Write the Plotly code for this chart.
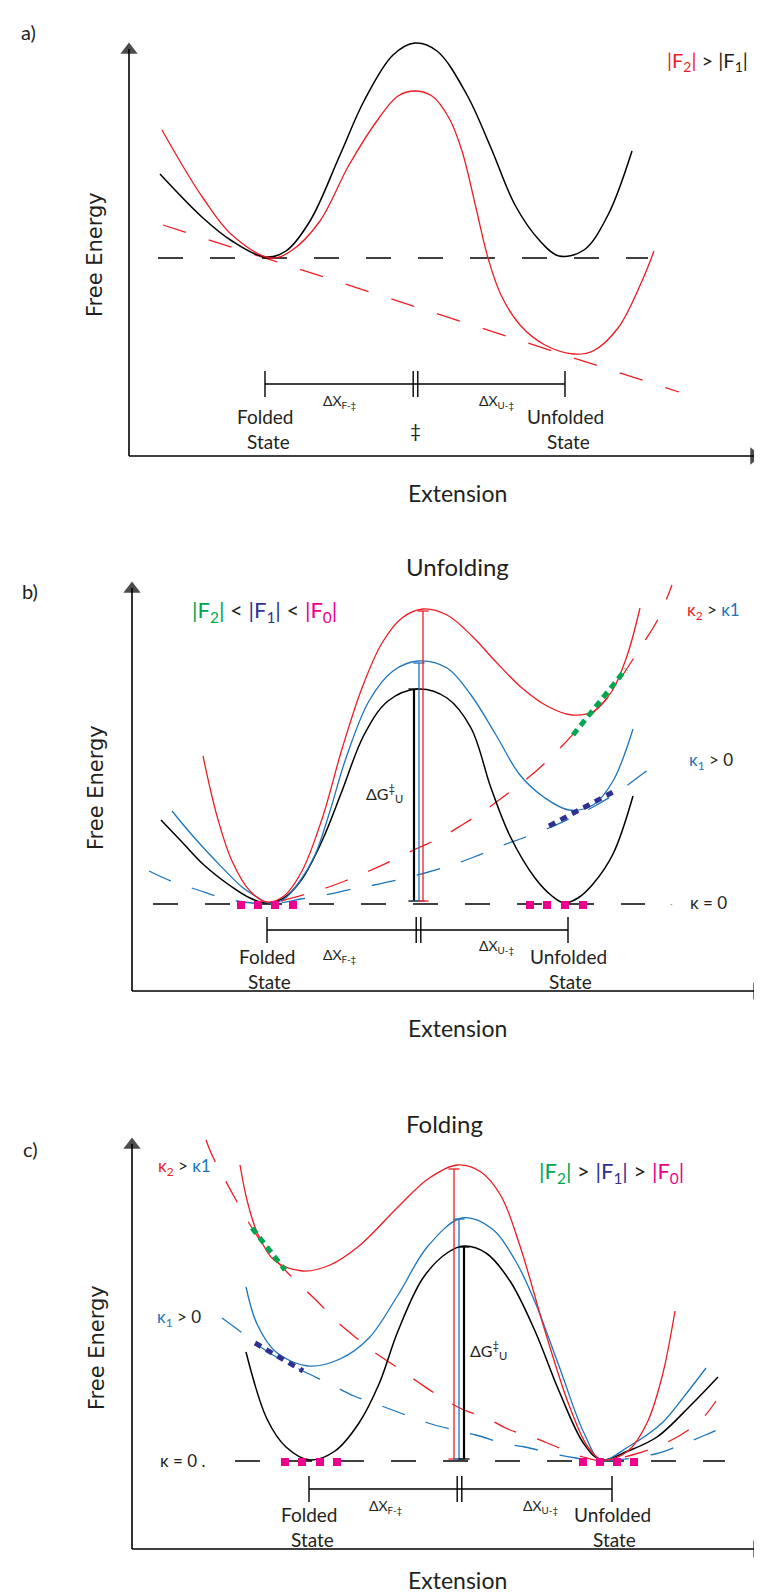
import plotly.graph_objects as go

# ---------------- DATA (panel-local units: extension, free energy) ----------------
# Panel a
a_black_x = [31, 74, 103, 136, 157, 181, 211, 235, 264, 286, 308, 338, 362, 386, 411, 430, 455, 479, 503]
a_black_y = [282, 238, 215, 199, 205, 235, 301, 355, 401, 413, 405, 361, 308, 251, 215, 200, 206, 241, 305]
a_red_x = [33, 55, 74, 103, 142, 162, 191, 220, 250, 269, 286, 303, 320, 333, 347, 359, 372, 391, 416, 445, 464, 489, 513, 525]
a_red_y = [326, 288, 258, 221, 198, 205, 235, 291, 338, 360, 365, 360, 338, 305, 248, 198, 161, 131, 111, 102, 105, 128, 175, 205]
a_tilt_x = [34, 550]
a_tilt_y = [231, 64]
a_base_x = [29, 519]
a_base_y = [198, 198]
a_states = [136, 286.5, 436]

# Panel b (unfolding)
b_black_x = [29, 50, 72, 100, 118, 135, 152, 170, 190, 210, 232, 256, 286, 315, 339, 359, 378, 403, 420, 432, 446, 461, 481, 501]
b_black_y = [171, 149, 126, 104, 93, 88, 93, 112, 150, 200, 256, 290, 302, 293, 263, 203, 155, 113, 95, 88, 93, 107, 137, 195]
b_blue_x = [40, 60, 81, 110, 125, 137, 152, 168, 183, 198, 213, 237, 261, 286, 315, 339, 364, 388, 413, 437, 461, 481, 501]
b_blue_y = [180, 156, 133, 104, 94, 88, 92, 110, 136, 180, 230, 290, 320, 330, 323, 296, 256, 216, 193, 181, 186, 210, 262]
b_red_x = [71, 85, 100, 118, 135, 152, 170, 190, 210, 230, 250, 270, 291, 315, 340, 365, 390, 415, 440, 462, 480, 495, 508]
b_red_y = [235, 175, 130, 100, 89, 95, 120, 172, 242, 303, 348, 373, 382, 376, 355, 328, 303, 285, 276, 280, 300, 335, 383]
b_red_dash_x = [149, 188, 213, 237, 259, 286, 308, 330, 352, 371, 391, 413, 432, 451, 476, 494, 510, 525, 540]
b_red_dash_y = [90, 101, 110, 120, 130, 143, 153, 166, 180, 194, 209, 228, 247, 268, 294, 321, 346, 370, 406]
b_blue_dash_x = [17, 39, 66, 91, 120, 146, 169, 193, 220, 242, 269, 293, 320, 342, 369, 391, 417, 439, 461, 483, 505, 525]
b_blue_dash_y = [120, 110, 101, 93, 88, 88, 92, 96, 102, 106, 112, 118, 126, 134, 145, 153, 163, 173, 184, 197, 213, 228]
b_green_x = [441, 494]
b_green_y = [256, 322]
b_navy_x = [417, 483]
b_navy_y = [165, 200]
b_mag_x = [109, 126, 143, 161, 398, 415, 433, 451]
b_mag_y = [86, 86, 86, 86, 86, 86, 86, 86]
b_base_x = [21, 513]
b_base_y = [87, 87]
b_bar_x = [282, 287, 291]
b_bar_top = [302, 328, 380]
b_bar_bottom = 90
b_states = [135, 286.5, 436]

# Panel c (folding)
c_black_x = [114, 135, 154, 178, 203, 227, 247, 266, 291, 315, 332, 354, 378, 403, 427, 452, 469, 496, 525, 559, 586]
c_black_y = [197, 130, 102, 89, 98, 126, 165, 218, 271, 296, 303, 296, 268, 218, 158, 105, 89, 98, 112, 144, 172]
c_blue_x = [114, 125, 144, 176, 208, 237, 266, 296, 330, 359, 383, 403, 427, 452, 469, 496, 530, 554, 574]
c_blue_y = [262, 225, 197, 183, 190, 211, 254, 303, 331, 321, 289, 247, 183, 116, 89, 102, 126, 155, 181]
c_red_x = [108, 115, 125, 142, 171, 198, 227, 266, 296, 325, 349, 369, 388, 413, 437, 456, 471, 496, 515, 530, 543]
c_red_y = [384, 349, 317, 289, 278, 284, 303, 342, 370, 384, 377, 353, 303, 218, 144, 102, 89, 98, 126, 172, 238]
c_red_dash_x = [74, 80, 92, 104, 120, 136, 153, 165, 186, 203, 227, 242, 266, 286, 310, 330, 356, 378, 403, 425, 451, 471, 500, 524, 547, 569, 584]
c_red_dash_y = [409, 394, 371, 349, 321, 298, 279, 267, 247, 229, 209, 197, 181, 167, 151, 140, 130, 119, 111, 102, 92, 88, 94, 102, 113, 129, 148]
c_blue_dash_x = [90, 109, 120, 146, 171, 198, 222, 247, 271, 296, 322, 344, 374, 393, 422, 444, 469, 523, 546, 571, 594]
c_blue_dash_y = [231, 217, 208, 191, 178, 165, 153, 144, 135, 126, 119, 114, 105, 102, 95, 91, 88, 95, 103, 113, 123]
c_green_x = [120, 153]
c_green_y = [321, 279]
c_navy_x = [123, 171]
c_navy_y = [206, 178]
c_mag_x = [153, 170, 188, 205, 451, 468, 485, 502]
c_mag_y = [87, 87, 87, 87, 87, 87, 87, 87]
c_base_x = [103, 593]
c_base_y = [88, 88]
c_bar_x = [322, 327, 332]
c_bar_top = [380, 330, 302]
c_bar_bottom = 90
c_states = [177, 327.5, 480]

# ---------------- STYLE ----------------
RED = "#ED1C24"
BLUE = "#1C75BC"
BLACK = "#000000"
GREEN = "#00A651"
NAVY = "#2E3192"
MAG = "#EC008C"
TXT = "#231F20"
SANS = "Lato"
FE_FONT = "DejaVu Sans"

W, H = 762, 1592
fig = go.Figure()

# panel geometry: (axis suffix, axis origin px x, axis origin px y, band top px, band bottom px)
panels = {
    "a": ("", 121, 448, 0, 520),
    "b": ("2", 124, 983, 520, 1040),
    "c": ("3", 124, 1541, 1040, 1592),
}

for key, (s, ox, oy, top, bot) in panels.items():
    fig.layout["xaxis" + s] = dict(domain=[0, 1], range=[-ox, W - ox], visible=False,
                                   anchor="y" + s, fixedrange=True)
    fig.layout["yaxis" + s] = dict(domain=[1 - bot / H, 1 - top / H], range=[oy - bot, oy - top],
                                   visible=False, anchor="x" + s, fixedrange=True)


def ax(key):
    s = panels[key][0]
    return "x" + s, "y" + s


def line(key, x, y, color, width=1.4, dash=None, shape="spline"):
    xa, ya = ax(key)
    fig.add_trace(go.Scatter(x=x, y=y, mode="lines", xaxis=xa, yaxis=ya,
                             line=dict(color=color, width=width, dash=dash, shape=shape, smoothing=1.0),
                             hoverinfo="skip", showlegend=False))


def squares(key, x, y):
    xa, ya = ax(key)
    fig.add_trace(go.Scatter(x=x, y=y, mode="markers", xaxis=xa, yaxis=ya,
                             marker=dict(symbol="square", size=8, color=MAG),
                             hoverinfo="skip", showlegend=False))


def bars(key, xs, tops, bottom, colors):
    xa, ya = ax(key)
    for x, t, c in zip(xs, tops, colors):
        w = 2.2 if c == BLACK else 1.3
        fig.add_trace(go.Scatter(x=[x, x], y=[bottom, t], mode="lines+markers", xaxis=xa, yaxis=ya,
                                 line=dict(color=c, width=w),
                                 marker=dict(symbol="line-ew", size=8, line=dict(width=1.3, color=c)),
                                 hoverinfo="skip", showlegend=False))


def bracket(key, states, yb):
    xa, ya = ax(key)
    segs = [([states[0], states[2]], [yb, yb]),
            ([states[0], states[0]], [yb - 13, yb + 13]),
            ([states[2], states[2]], [yb - 13, yb + 13]),
            ([states[1] - 2.3, states[1] - 2.3], [yb - 13, yb + 13]),
            ([states[1] + 2.3, states[1] + 2.3], [yb - 13, yb + 13])]
    for sx, sy in segs:
        fig.add_trace(go.Scatter(x=sx, y=sy, mode="lines", xaxis=xa, yaxis=ya,
                                 line=dict(color=BLACK, width=1.4), hoverinfo="skip", showlegend=False))


def axis_arrows(key, ytip, xtip):
    xa, ya = ax(key)
    fig.add_trace(go.Scatter(x=[0, 0], y=[0, ytip - 8], mode="lines", xaxis=xa, yaxis=ya,
                             line=dict(color=BLACK, width=1.6), hoverinfo="skip", showlegend=False))
    fig.add_trace(go.Scatter(x=[0, xtip - 8], y=[0, 0], mode="lines", xaxis=xa, yaxis=ya,
                             line=dict(color=BLACK, width=1.6), hoverinfo="skip", showlegend=False))
    fig.add_trace(go.Scatter(x=[0], y=[ytip - 9], mode="markers", xaxis=xa, yaxis=ya, cliponaxis=False,
                             marker=dict(symbol="triangle-up", size=[15], color=BLACK,
                                         line=dict(width=0)),
                             hoverinfo="skip", showlegend=False))
    fig.add_trace(go.Scatter(x=[xtip - 9], y=[0], mode="markers", xaxis=xa, yaxis=ya, cliponaxis=False,
                             marker=dict(symbol="triangle-right", size=[15], color=BLACK,
                                         line=dict(width=0)),
                             hoverinfo="skip", showlegend=False))


annotations = []


def text(key, x, y, t, size=19, family=SANS, color=TXT, angle=0, xanchor="center"):
    xa, ya = ax(key)
    annotations.append(dict(x=x, y=y, xref=xa, yref=ya, text=t, showarrow=False,
                            font=dict(family=family, size=size, color=color),
                            textangle=angle, xanchor=xanchor, yanchor="middle"))


def col(c, t):
    return f"<span style='color:{c}'>{t}</span>"


# ---------------- PANEL a ----------------
line("a", a_tilt_x, a_tilt_y, RED, 1.3, "24px,24px", "linear")
line("a", a_base_x, a_base_y, BLACK, 1.6, "25px,27px", "linear")
line("a", a_black_x, a_black_y, BLACK, 1.5)
line("a", a_red_x, a_red_y, RED, 1.3)
bracket("a", a_states, 72)
axis_arrows("a", 415, 634)
text("a", -101, 424, "a)", 20)
text("a", -34, 201, "Free Energy", 21, FE_FONT, angle=-90)
text("a", 328, -37, "Extension", 23)
text("a", 578, 395, col(RED, "|F<sub>2</sub>|") + " > |F<sub>1</sub>|", 20)
text("a", a_states[0], 40, "Folded")
text("a", a_states[0] + 3, 15, "State")
text("a", a_states[2], 40, "Unfolded")
text("a", a_states[2] + 3, 15, "State")
text("a", a_states[1], 26, "‡", 19)
text("a", 211, 55, "ΔX<sub>F-‡</sub>", 14)
text("a", 367, 55, "ΔX<sub>U-‡</sub>", 14)

# ---------------- PANEL b ----------------
line("b", b_base_x, b_base_y, BLACK, 1.6, "25px,27px", "linear")
line("b", b_red_dash_x, b_red_dash_y, RED, 1.3, "24px,22px")
line("b", b_blue_dash_x, b_blue_dash_y, BLUE, 1.3, "24px,22px")
line("b", b_black_x, b_black_y, BLACK, 1.5)
line("b", b_blue_x, b_blue_y, BLUE, 1.3)
line("b", b_red_x, b_red_y, RED, 1.3)
line("b", b_green_x, b_green_y, GREEN, 5, "7px,5px", "linear")
line("b", b_navy_x, b_navy_y, NAVY, 5, "7px,6px", "linear")
squares("b", b_mag_x, b_mag_y)
bars("b", b_bar_x, b_bar_top, b_bar_bottom, [BLACK, BLUE, RED])
bracket("b", b_states, 61)
axis_arrows("b", 411, 634)
text("b", 325, 425, "Unfolding", 24)
text("b", -102, 400, "b)", 20)
text("b", -36, 203, "Free Energy", 21, FE_FONT, angle=-90)
text("b", 325, -37, "Extension", 23)
text("b", 132, 380, col(GREEN, "|F<sub>2</sub>|") + " < " + col(NAVY, "|F<sub>1</sub>|") + " < "
     + col(MAG, "|F<sub>0</sub>|"), 22)
text("b", 581, 380, col(RED, "κ<sub>2</sub>") + " > " + col(BLUE, "κ1"), 17)
text("b", 579, 230, col(BLUE, "κ<sub>1</sub>") + " > 0", 17)
text("b", 576, 89, "κ = 0", 17)
text("b", 539, 88, "·", 10, color="#999999")
text("b", 252, 198, "ΔG<sup>‡</sup><sub>U</sub>", 16)
text("b", b_states[0], 35, "Folded")
text("b", b_states[0] + 2, 10, "State")
text("b", b_states[2], 35, "Unfolded")
text("b", b_states[2] + 2, 10, "State")
text("b", 208, 36, "ΔX<sub>F-‡</sub>", 14)
text("b", 364, 45, "ΔX<sub>U-‡</sub>", 14)

# ---------------- PANEL c ----------------
line("c", c_base_x, c_base_y, BLACK, 1.6, "25px,27px", "linear")
line("c", c_red_dash_x, c_red_dash_y, RED, 1.3, "24px,22px")
line("c", c_blue_dash_x, c_blue_dash_y, BLUE, 1.3, "24px,22px")
line("c", c_black_x, c_black_y, BLACK, 1.5)
line("c", c_blue_x, c_blue_y, BLUE, 1.3)
line("c", c_red_x, c_red_y, RED, 1.3)
line("c", c_green_x, c_green_y, GREEN, 5, "7px,5px", "linear")
line("c", c_navy_x, c_navy_y, NAVY, 5, "7px,6px", "linear")
squares("c", c_mag_x, c_mag_y)
bars("c", c_bar_x, c_bar_top, c_bar_bottom, [RED, BLUE, BLACK])
bracket("c", c_states, 60)
axis_arrows("c", 413, 634)
text("c", 312, 426, "Folding", 24)
text("c", -102, 400, "c)", 20)
text("c", -35, 201, "Free Energy", 21, FE_FONT, angle=-90)
text("c", 325, -31, "Extension", 23)
text("c", 479, 377, col(GREEN, "|F<sub>2</sub>|") + " > " + col(NAVY, "|F<sub>1</sub>|") + " > "
     + col(MAG, "|F<sub>0</sub>|"), 22)
text("c", 52, 382, col(RED, "κ<sub>2</sub>") + " > " + col(BLUE, "κ1"), 17)
text("c", 47, 231, col(BLUE, "κ<sub>1</sub>") + " > 0", 17)
text("c", 50, 89, "κ = 0 .", 17)
text("c", 356, 199, "ΔG<sup>‡</sup><sub>U</sub>", 16)
text("c", c_states[0], 35, "Folded")
text("c", c_states[0] + 3, 10, "State")
text("c", c_states[2], 35, "Unfolded")
text("c", c_states[2] + 2, 10, "State")
text("c", 254, 43, "ΔX<sub>F-‡</sub>", 14)
text("c", 408, 43, "ΔX<sub>U-‡</sub>", 14)

fig.update_layout(width=W, height=H, margin=dict(l=0, r=0, t=0, b=0),
                  paper_bgcolor="white", plot_bgcolor="white",
                  showlegend=False, annotations=annotations)

fig.write_html("out.html", config={"displayModeBar": False})
